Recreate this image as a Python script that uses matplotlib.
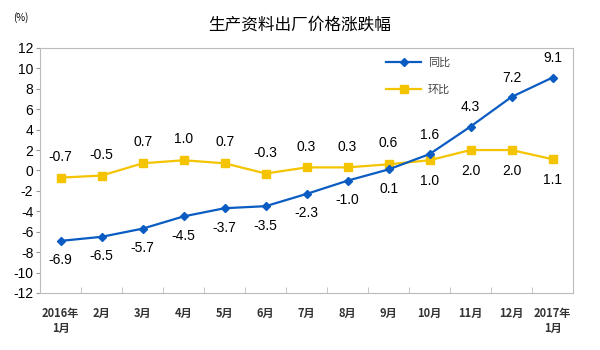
import numpy as np
import matplotlib
matplotlib.use("Agg")
import matplotlib.pyplot as plt

plt.rcParams['font.family'] = ['Noto Sans CJK SC', 'DejaVu Sans']

# data
months = ['2016年\n1月', '2月', '3月', '4月', '5月', '6月', '7月', '8月',
          '9月', '10月', '11月', '12月', '2017年\n1月']
yoy = [-6.9, -6.5, -5.7, -4.5, -3.7, -3.5, -2.3, -1.0, 0.1, 1.6, 4.3, 7.2, 9.1]
mom = [-0.7, -0.5, 0.7, 1.0, 0.7, -0.3, 0.3, 0.3, 0.6, 1.0, 2.0, 2.0, 1.1]
# label above (1) or below (-1)
yoy_pos = [-1, -1, -1, -1, -1, -1, -1, -1, -1, 1, 1, 1, 1]
mom_pos = [1, 1, 1, 1, 1, 1, 1, 1, 1, -1, -1, -1, -1]

blue = '#0A5CC2'
yellow = '#F5C400'
numfont = 'Liberation Sans'

fig = plt.figure(figsize=(6, 3.5), dpi=100)
ax = fig.add_axes([0.067, 0.163, 0.888, 0.7])

x = np.arange(len(months))
ax.plot(x, yoy, color=blue, lw=1.6, marker='D', ms=4.5, label='同比', zorder=3)
ax.plot(x, mom, color=yellow, lw=1.6, marker='s', ms=5.5, label='环比', zorder=2)

for i in range(len(x)):
    ax.annotate('%.1f' % yoy[i], (x[i], yoy[i]), xytext=(0, 14 * yoy_pos[i]),
                textcoords='offset points', ha='center', va='center', fontsize=10,
                family=numfont)
    ax.annotate('%.1f' % mom[i], (x[i], mom[i]), xytext=(0, 15 * mom_pos[i]),
                textcoords='offset points', ha='center', va='center', fontsize=10,
                family=numfont)

ax.set_xlim(-0.5, len(months) - 0.5)
ax.set_ylim(-12, 12)
ax.set_yticks(np.arange(-12, 13, 2))
ax.set_yticklabels([str(v) for v in range(-12, 13, 2)], family=numfont, fontsize=10)
ax.tick_params(axis='y', length=3, color='#999999', pad=2)
ax.set_xticks(x)
ax.set_xticklabels(months, fontsize=8, fontweight='bold', color='#333333')
ax.tick_params(axis='x', which='major', length=0, pad=10)
ax.set_xticks(np.arange(0.5, len(months) - 1, 1), minor=True)
ax.tick_params(axis='x', which='minor', direction='in', length=4, color='#BBBBBB')
for s in ax.spines.values():
    s.set_color('#BBBBBB')

leg = ax.legend(loc='upper left', bbox_to_anchor=(0.63, 1.0), frameon=False, fontsize=8,
                handlelength=3.2, handletextpad=0.6, labelspacing=1.5)
for t in leg.get_texts():
    t.set_color('#444444')

fig.text(0.5, 0.927, '生产资料出厂价格涨跌幅', ha='center', va='center', fontsize=12)
fig.text(0.035, 0.95, '(%)', ha='center', va='center', fontsize=7)

fig.savefig('out.png', dpi=100)
